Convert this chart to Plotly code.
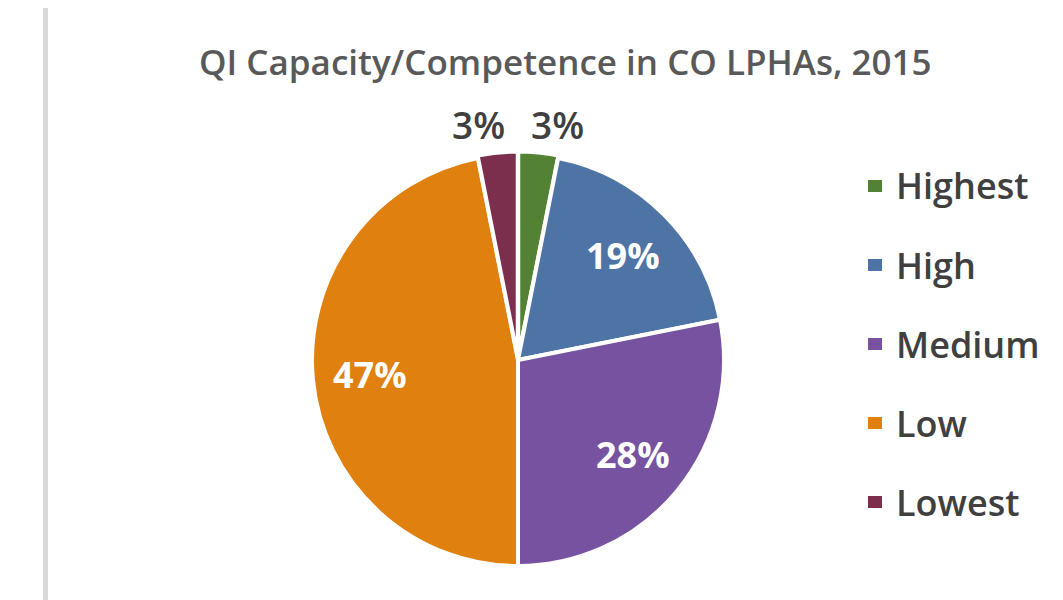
import numpy as np
import plotly.graph_objects as go

W, H = 1063, 600
OFFSET = 8  # the html body margin pushes the plot 8px right/down

# data
labels = ["Highest", "High", "Medium", "Low", "Lowest"]
counts = [1, 6, 9, 15, 1]
colors = ["#548235", "#4e74a5", "#7652a0", "#e0800e", "#7b2f4c"]
label_inside = [False, True, True, True, False]
title_text = "QI Capacity/Competence in CO LPHAs, 2015"

TEXT_GRAY = "#404040"
FONT = "Open Sans"


def px_x(x):
    return (x - OFFSET) / W


def px_y(y):
    return 1 - (y - OFFSET) / H


# pie placement (screen pixels)
cx, cy, r = 518, 360, 206
pulls = [0.012, 0, 0, 0, 0.012]
half = r * (1 + max(pulls))

fig = go.Figure()

fig.add_trace(go.Pie(
    labels=labels,
    values=counts,
    sort=False,
    direction="clockwise",
    rotation=0,
    marker=dict(colors=colors, line=dict(color="white", width=4)),
    pull=pulls,
    textinfo="none",
    domain=dict(x=[px_x(cx - half), px_x(cx + half)],
                y=[px_y(cy + half), px_y(cy - half)]),
    showlegend=False,
    hoverinfo="label+percent",
))

# percent labels placed along each slice's middle angle
vals = np.array(counts, dtype=float)
shares = vals / vals.sum()
mid = (np.cumsum(shares) - shares / 2) * 2 * np.pi  # clockwise from 12 o'clock
for share, ang, inside in zip(shares, mid, label_inside):
    rr = r * (0.72 if inside else 1.15)
    lx = cx + rr * np.sin(ang)
    ly = cy - rr * np.cos(ang)
    shift = 0
    if inside:
        anchor = "center"
        font = dict(family=FONT, size=36, color="white", weight="bold")
    else:
        right_side = np.sin(ang) > 0
        anchor = "left" if right_side else "right"
        shift = -12 if right_side else 12
        font = dict(family=FONT, size=37, color=TEXT_GRAY, weight=600)
    fig.add_annotation(
        text=f"{share:.0%}", x=px_x(lx), y=px_y(ly), xref="paper", yref="paper",
        xanchor=anchor, yanchor="middle", xshift=shift, showarrow=False, font=font,
    )

# title
fig.add_annotation(
    text=title_text, x=px_x(565), y=px_y(62), xref="paper", yref="paper",
    xanchor="center", yanchor="middle", showarrow=False,
    font=dict(family=FONT, size=35, color="#595959", weight=600),
)

# legend drawn by hand so the row spacing matches
legend_top = 186
legend_step = 79
for i, (lab, col) in enumerate(zip(labels, colors)):
    yc = legend_top + i * legend_step
    fig.add_shape(
        type="rect", xref="paper", yref="paper",
        x0=px_x(868), x1=px_x(882), y0=px_y(yc + 6), y1=px_y(yc - 6),
        fillcolor=col, line=dict(width=0),
    )
    fig.add_annotation(
        text=lab, x=px_x(894), y=px_y(yc), xref="paper", yref="paper",
        xanchor="left", yanchor="middle", showarrow=False,
        font=dict(family=FONT, size=36, color=TEXT_GRAY, weight=600),
    )

# gray rule on the left edge
fig.add_shape(
    type="line", xref="paper", yref="paper",
    x0=px_x(45.5), x1=px_x(45.5), y0=0, y1=1.05,
    line=dict(color="#d9d9d9", width=5),
)

fig.update_layout(
    width=W, height=H,
    margin=dict(l=0, r=0, t=0, b=0),
    paper_bgcolor="white",
    plot_bgcolor="white",
    showlegend=False,
)

fig.write_html("out.html")
